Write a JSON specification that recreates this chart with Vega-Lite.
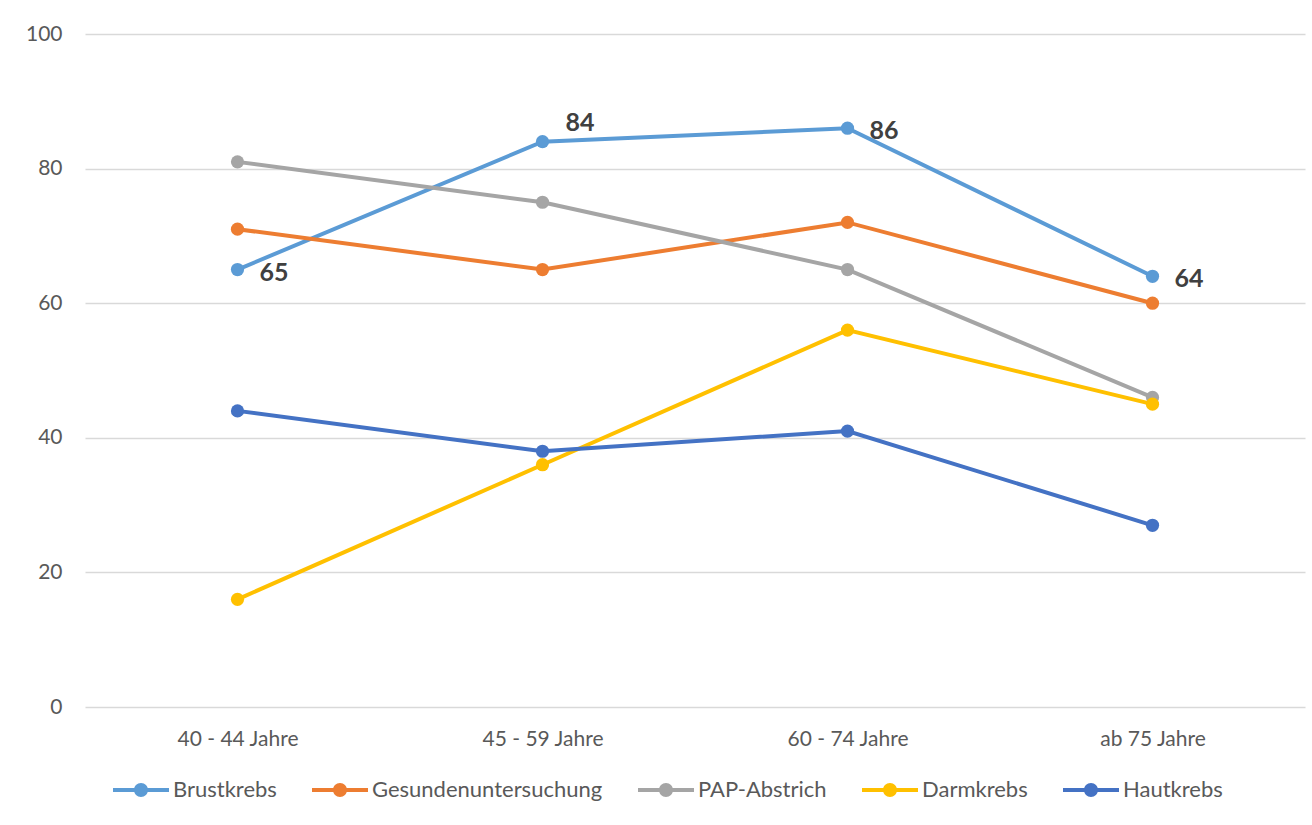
{
  "$schema": "https://vega.github.io/schema/vega-lite/v6.json",
  "width": 1220,
  "height": 673,
  "autosize": {"type": "none"},
  "padding": {"left": 85, "top": 34, "right": 7, "bottom": 118},
  "background": "white",
  "config": {
    "view": {"stroke": null},
    "font": "Lato",
    "axis": {"labelFont": "Lato", "labelColor": "#595959", "labelFontSize": 21, "domain": false, "ticks": false, "title": null}
  },
  "data": {
    "values": [
      {"age": "40 - 44 Jahre", "series": "Brustkrebs", "value": 65},
      {"age": "45 - 59 Jahre", "series": "Brustkrebs", "value": 84},
      {"age": "60 - 74 Jahre", "series": "Brustkrebs", "value": 86},
      {"age": "ab 75 Jahre", "series": "Brustkrebs", "value": 64},
      {"age": "40 - 44 Jahre", "series": "Gesundenuntersuchung", "value": 71},
      {"age": "45 - 59 Jahre", "series": "Gesundenuntersuchung", "value": 65},
      {"age": "60 - 74 Jahre", "series": "Gesundenuntersuchung", "value": 72},
      {"age": "ab 75 Jahre", "series": "Gesundenuntersuchung", "value": 60},
      {"age": "40 - 44 Jahre", "series": "PAP-Abstrich", "value": 81},
      {"age": "45 - 59 Jahre", "series": "PAP-Abstrich", "value": 75},
      {"age": "60 - 74 Jahre", "series": "PAP-Abstrich", "value": 65},
      {"age": "ab 75 Jahre", "series": "PAP-Abstrich", "value": 46},
      {"age": "40 - 44 Jahre", "series": "Darmkrebs", "value": 16},
      {"age": "45 - 59 Jahre", "series": "Darmkrebs", "value": 36},
      {"age": "60 - 74 Jahre", "series": "Darmkrebs", "value": 56},
      {"age": "ab 75 Jahre", "series": "Darmkrebs", "value": 45},
      {"age": "40 - 44 Jahre", "series": "Hautkrebs", "value": 44},
      {"age": "45 - 59 Jahre", "series": "Hautkrebs", "value": 38},
      {"age": "60 - 74 Jahre", "series": "Hautkrebs", "value": 41},
      {"age": "ab 75 Jahre", "series": "Hautkrebs", "value": 27}
    ]
  },
  "encoding": {
    "x": {
      "field": "age", "type": "ordinal", "sort": null,
      "scale": {"padding": 0.5},
      "axis": {"labelAngle": 0, "labelPadding": 21, "grid": false}
    },
    "y": {
      "field": "value", "type": "quantitative",
      "scale": {"domain": [0, 100]},
      "axis": {"values": [0, 20, 40, 60, 80, 100], "labelPadding": 23, "grid": true, "gridColor": "#d9d9d9", "gridWidth": 1.3}
    },
    "color": {
      "field": "series", "type": "nominal",
      "scale": {
        "domain": ["Brustkrebs", "Gesundenuntersuchung", "PAP-Abstrich", "Darmkrebs", "Hautkrebs"],
        "range": ["#5B9BD5", "#ED7D31", "#A5A5A5", "#FFC000", "#4472C4"]
      },
      "legend": {
        "orient": "none",
        "direction": "horizontal",
        "legendX": 28,
        "legendY": 728,
        "title": null,
        "symbolType": "M-1,-0.071H1V0.071H-1Z M-0.25,0 A0.25,0.25 0 1,1 0.25,0 A0.25,0.25 0 1,1 -0.25,0 Z",
        "symbolSize": 3136,
        "symbolStrokeWidth": 0,
        "labelFont": "Lato",
        "labelFontSize": 22,
        "labelColor": "#595959",
        "labelOffset": 4,
        "labelLimit": 0,
        "columnPadding": 35,
        "encode": {
          "symbols": {"update": {"fill": {"scale": "color", "field": "value"}, "stroke": {"value": "transparent"}, "opacity": {"value": 1}}}
        }
      }
    }
  },
  "layer": [
    {"mark": {"type": "line", "strokeWidth": 4}},
    {"mark": {"type": "point", "filled": true, "size": 175, "opacity": 1}},
    {
      "transform": [{"filter": "datum.series === 'Brustkrebs' && datum.age !== '45 - 59 Jahre'"}],
      "mark": {"type": "text", "align": "left", "baseline": "middle", "dx": 22, "dy": 3, "fontSize": 25, "fontWeight": "bold", "color": "#404040", "font": "Lato"},
      "encoding": {"text": {"field": "value", "type": "quantitative"}, "color": {"value": "#404040"}}
    },
    {
      "transform": [{"filter": "datum.series === 'Brustkrebs' && datum.age === '45 - 59 Jahre'"}],
      "mark": {"type": "text", "align": "left", "baseline": "middle", "dx": 23, "dy": -19, "fontSize": 25, "fontWeight": "bold", "color": "#404040", "font": "Lato"},
      "encoding": {"text": {"field": "value", "type": "quantitative"}, "color": {"value": "#404040"}}
    }
  ]
}
